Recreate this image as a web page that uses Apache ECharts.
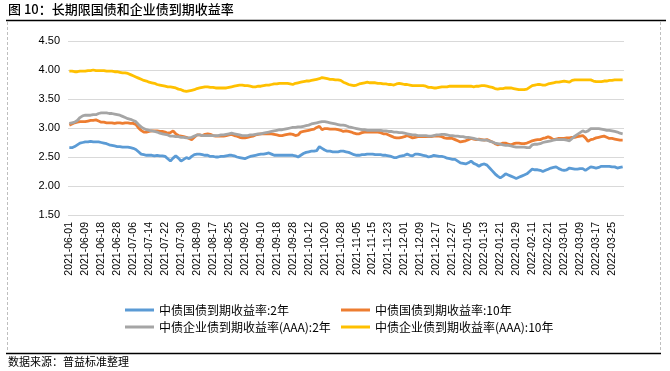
<!DOCTYPE html>
<html><head><meta charset="utf-8">
<script src="https://cdn.jsdelivr.net/npm/echarts@6/dist/echarts.min.js"></script>
<style>html,body{margin:0;padding:0;background:#fff}#c{width:670px;height:371px}</style>
</head><body><div id="c"></div>
<script>
const title = '图 10：长期限国债和企业债到期收益率';
const source = '数据来源：普益标准整理';
const seriesNames = ['中债国债到期收益率:2年','中债国债到期收益率:10年','中债企业债到期收益率(AAA):2年','中债企业债到期收益率(AAA):10年'];
const months = [
 ['2021-06',['01','02','03','04','07','08','09','10','11','15','16','17','18','21','22','23','24','25','28','29','30']],
 ['2021-07',['01','02','05','06','07','08','09','12','13','14','15','16','19','20','21','22','23','26','27','28','29','30']],
 ['2021-08',['02','03','04','05','06','09','10','11','12','13','16','17','18','19','20','23','24','25','26','27','30','31']],
 ['2021-09',['01','02','03','06','07','08','09','10','13','14','15','16','17','18','22','23','24','26','27','28','29','30']],
 ['2021-10',['08','09','11','12','13','14','15','18','19','20','21','22','25','26','27','28','29']],
 ['2021-11',['01','02','03','04','05','08','09','10','11','12','15','16','17','18','19','22','23','24','25','26','29','30']],
 ['2021-12',['01','02','03','06','07','08','09','10','13','14','15','16','17','20','21','22','23','24','27','28','29','30','31']],
 ['2022-01',['04','05','06','07','10','11','12','13','14','17','18','19','20','21','24','25','26','27','28','29','30']],
 ['2022-02',['07','08','09','10','11','14','15','16','17','18','21','22','23','24','25','28']],
 ['2022-03',['01','02','03','04','07','08','09','10','11','14','15','16','17','18','21','22','23','24','25','28','29','30','31']]
];
const dates = [];
months.forEach(([m, ds]) => ds.forEach(d => dates.push(m + '-' + d)));

const gov2y = [
2.66,2.66,2.68,2.71,2.74,2.75,2.76,2.76,2.77,2.76,
2.76,2.76,2.75,2.74,2.73,2.71,2.70,2.69,2.68,2.68,
2.67,2.67,2.67,2.66,2.65,2.63,2.59,2.55,2.54,2.53,
2.53,2.53,2.52,2.53,2.52,2.52,2.51,2.47,2.43,2.48,
2.52,2.48,2.43,2.46,2.49,2.47,2.51,2.54,2.55,2.55,
2.54,2.53,2.53,2.51,2.51,2.50,2.50,2.51,2.51,2.52,
2.53,2.53,2.52,2.50,2.49,2.48,2.47,2.49,2.51,2.52,
2.53,2.54,2.55,2.55,2.56,2.57,2.55,2.53,2.53,2.53,
2.53,2.53,2.53,2.53,2.53,2.52,2.50,2.53,2.56,2.58,
2.59,2.60,2.60,2.61,2.68,2.65,2.62,2.60,2.60,2.59,
2.59,2.59,2.60,2.60,2.59,2.58,2.56,2.54,2.53,2.53,
2.54,2.54,2.55,2.55,2.55,2.54,2.54,2.54,2.53,2.53,
2.52,2.51,2.49,2.49,2.51,2.52,2.53,2.55,2.53,2.52,
2.55,2.55,2.54,2.53,2.52,2.50,2.51,2.53,2.52,2.51,
2.51,2.50,2.48,2.47,2.46,2.46,2.43,2.40,2.39,2.38,
2.40,2.43,2.39,2.37,2.34,2.37,2.38,2.36,2.31,2.26,
2.21,2.17,2.14,2.17,2.21,2.19,2.17,2.15,2.13,2.15,
2.17,2.19,2.21,2.25,2.29,2.28,2.28,2.27,2.25,2.27,
2.29,2.31,2.32,2.33,2.30,2.28,2.27,2.28,2.31,2.30,
2.29,2.29,2.30,2.30,2.27,2.30,2.33,2.32,2.31,2.32,
2.34,2.34,2.34,2.34,2.33,2.33,2.31,2.32,2.33];

const gov10y = [
3.05,3.07,3.09,3.10,3.11,3.11,3.11,3.12,3.13,3.13,
3.14,3.12,3.10,3.10,3.09,3.09,3.09,3.08,3.09,3.09,
3.08,3.09,3.09,3.08,3.08,3.06,3.00,2.96,2.93,2.93,
2.94,2.95,2.95,2.95,2.94,2.94,2.93,2.91,2.92,2.95,
2.90,2.87,2.86,2.85,2.84,2.82,2.80,2.84,2.88,2.88,
2.87,2.89,2.90,2.89,2.87,2.86,2.86,2.86,2.86,2.87,
2.88,2.89,2.87,2.86,2.84,2.83,2.83,2.84,2.85,2.86,
2.88,2.89,2.90,2.90,2.90,2.90,2.90,2.89,2.88,2.87,
2.87,2.88,2.89,2.90,2.89,2.87,2.88,2.93,2.94,2.95,
2.96,2.97,2.98,3.01,3.03,2.97,2.99,2.99,2.98,2.98,
2.98,2.97,2.96,2.94,2.95,2.94,2.93,2.91,2.90,2.90,
2.92,2.93,2.93,2.93,2.93,2.93,2.93,2.92,2.90,2.90,
2.88,2.86,2.84,2.83,2.83,2.84,2.85,2.87,2.85,2.83,
2.84,2.85,2.85,2.85,2.85,2.85,2.85,2.86,2.86,2.86,
2.85,2.83,2.82,2.82,2.82,2.80,2.78,2.76,2.77,2.78,
2.80,2.82,2.81,2.80,2.81,2.80,2.79,2.80,2.78,2.76,
2.73,2.71,2.72,2.74,2.74,2.72,2.71,2.73,2.74,2.74,
2.73,2.73,2.74,2.76,2.78,2.79,2.80,2.80,2.82,2.83,
2.85,2.83,2.80,2.81,2.82,2.82,2.82,2.83,2.83,2.84,
2.84,2.85,2.86,2.87,2.83,2.77,2.80,2.81,2.83,2.84,
2.85,2.86,2.84,2.82,2.82,2.81,2.80,2.79,2.79];

const aaa2y = [
3.08,3.09,3.10,3.13,3.18,3.21,3.22,3.22,3.22,3.23,
3.23,3.25,3.26,3.26,3.26,3.25,3.25,3.24,3.23,3.22,
3.20,3.18,3.16,3.15,3.13,3.11,3.06,3.02,2.99,2.97,
2.96,2.95,2.94,2.93,2.91,2.90,2.89,2.88,2.86,2.86,
2.85,2.85,2.84,2.84,2.83,2.83,2.84,2.86,2.88,2.88,
2.87,2.87,2.87,2.87,2.87,2.87,2.87,2.88,2.88,2.89,
2.90,2.91,2.90,2.89,2.88,2.87,2.87,2.87,2.88,2.88,
2.89,2.90,2.90,2.91,2.92,2.93,2.94,2.95,2.96,2.97,
2.97,2.98,2.99,3.00,3.01,3.01,3.02,3.02,3.03,3.04,
3.05,3.07,3.08,3.09,3.10,3.11,3.11,3.10,3.09,3.08,
3.07,3.06,3.05,3.05,3.04,3.02,3.01,3.00,2.99,2.98,
2.97,2.97,2.96,2.96,2.96,2.96,2.96,2.96,2.95,2.95,
2.94,2.94,2.93,2.93,2.92,2.92,2.91,2.90,2.89,2.88,
2.88,2.87,2.87,2.87,2.87,2.86,2.86,2.87,2.88,2.88,
2.89,2.89,2.88,2.87,2.87,2.86,2.86,2.85,2.85,2.84,
2.84,2.83,2.82,2.81,2.80,2.79,2.79,2.79,2.77,2.76,
2.74,2.73,2.72,2.71,2.70,2.70,2.69,2.68,2.67,2.67,
2.67,2.67,2.66,2.66,2.71,2.72,2.72,2.73,2.75,2.76,
2.77,2.78,2.79,2.80,2.80,2.80,2.80,2.79,2.78,2.82,
2.86,2.89,2.92,2.95,2.93,2.95,2.99,2.99,2.99,2.99,
2.98,2.97,2.96,2.96,2.95,2.94,2.93,2.91,2.90];

const aaa10y = [
3.98,3.98,3.97,3.97,3.98,3.98,3.98,3.99,3.99,4.00,
3.99,3.99,3.99,3.99,3.98,3.98,3.98,3.97,3.97,3.96,
3.95,3.95,3.94,3.92,3.90,3.88,3.86,3.84,3.82,3.81,
3.79,3.78,3.77,3.75,3.74,3.73,3.72,3.71,3.71,3.70,
3.69,3.67,3.66,3.64,3.63,3.64,3.65,3.66,3.68,3.69,
3.70,3.71,3.71,3.70,3.70,3.69,3.69,3.69,3.69,3.69,
3.70,3.71,3.72,3.73,3.74,3.74,3.73,3.73,3.72,3.71,
3.71,3.72,3.72,3.73,3.74,3.74,3.75,3.76,3.76,3.77,
3.77,3.77,3.77,3.76,3.75,3.77,3.78,3.79,3.80,3.81,
3.81,3.82,3.83,3.84,3.85,3.87,3.86,3.85,3.84,3.84,
3.83,3.83,3.82,3.79,3.77,3.75,3.74,3.73,3.74,3.76,
3.77,3.78,3.79,3.78,3.78,3.78,3.77,3.77,3.76,3.76,
3.75,3.75,3.74,3.76,3.77,3.76,3.75,3.75,3.74,3.73,
3.73,3.73,3.73,3.73,3.72,3.70,3.70,3.69,3.69,3.70,
3.71,3.71,3.71,3.72,3.72,3.72,3.72,3.72,3.72,3.72,
3.72,3.72,3.71,3.72,3.72,3.73,3.73,3.72,3.71,3.70,
3.68,3.67,3.68,3.68,3.69,3.69,3.69,3.68,3.67,3.66,
3.66,3.66,3.67,3.70,3.73,3.74,3.75,3.75,3.74,3.74,
3.76,3.77,3.78,3.79,3.79,3.80,3.81,3.80,3.79,3.82,
3.83,3.83,3.83,3.83,3.83,3.83,3.83,3.81,3.80,3.80,
3.80,3.81,3.81,3.82,3.82,3.83,3.83,3.83,3.83];

const yMin = 1.5, yMax = 4.5, yStep = 0.5;
const colors = ['#5B9BD5','#ED7D31','#A5A5A5','#FFC000'];
const values = [gov2y, gov10y, aaa2y, aaa10y];
const FONT = '"Noto Sans CJK SC", "Liberation Sans", sans-serif';

const chart = echarts.init(document.getElementById('c'), null, {renderer:'canvas'});
chart.setOption({
  animation: false,
  color: colors,
  textStyle: {fontFamily: FONT},
  graphic: [
    {type:'text', left: 8, top: 3, style:{text: title, font: '500 13px ' + FONT, fill:'#000'}},
    {type:'line', shape:{x1:6, y1:20.5, x2:666, y2:20.5}, style:{stroke:'#000', lineWidth:1.5}},
    {type:'line', shape:{x1:7.5, y1:22, x2:7.5, y2:352}, style:{stroke:'#bfbfbf', lineWidth:1, lineDash:[3,2]}},
    {type:'line', shape:{x1:660.5, y1:22, x2:660.5, y2:352}, style:{stroke:'#bfbfbf', lineWidth:1, lineDash:[3,2]}},
    {type:'line', shape:{x1:6, y1:353.5, x2:661, y2:353.5}, style:{stroke:'#000', lineWidth:1.5}},
    {type:'text', left: 8, top: 356, style:{text: source, font: '11px ' + FONT, fill:'#000'}}
  ],
  grid: {left: 68, right: 46, top: 41, bottom: 156, containLabel: false},
  legend: [
    {data:[seriesNames[0], seriesNames[2]], orient:'vertical', left:120, top:299, itemWidth:29, itemHeight:3, itemGap:5, icon:'rect',
     textStyle:{fontSize:12, color:'#000', fontFamily: FONT}},
    {data:[seriesNames[1], seriesNames[3]], orient:'vertical', left:336, top:299, itemWidth:29, itemHeight:3, itemGap:5, icon:'rect',
     textStyle:{fontSize:12, color:'#000', fontFamily: FONT}}
  ],
  xAxis: {
    type:'category', data: dates, boundaryGap: true,
    axisLine:{show:false}, axisTick:{show:false},
    axisLabel:{interval:5, rotate:90, fontSize:10.5, color:'#000', margin:7, fontFamily:'"Liberation Sans", Arial, sans-serif'}
  },
  yAxis: {
    type:'value', min:yMin, max:yMax, interval:yStep,
    axisLine:{show:false}, axisTick:{show:false},
    axisLabel:{formatter: v => v.toFixed(2), fontSize:11, color:'#000', margin:8, fontFamily:'"Liberation Sans", Arial, sans-serif'},
    splitLine:{lineStyle:{color:'#d9d9d9', width:1}}
  },
  series: values.map((v, k) => ({
    name: seriesNames[k], type:'line', data: v, showSymbol:false, symbol:'none',
    lineStyle:{width:2.8, color: colors[k]}, itemStyle:{color: colors[k]}, z: 2
  }))
});
</script></body></html>
